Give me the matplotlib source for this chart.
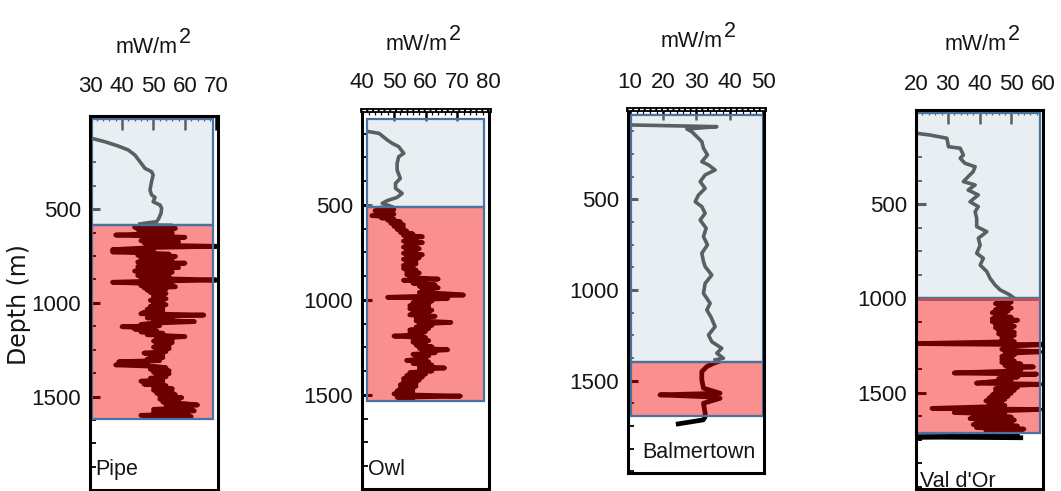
import matplotlib
matplotlib.use('Agg')
import matplotlib.pyplot as plt
from matplotlib.patches import Rectangle
from matplotlib.ticker import FixedLocator, MultipleLocator
import matplotlib.transforms as mtransforms

plt.rcParams['font.family'] = ['Liberation Sans', 'DejaVu Sans']

# ---- data -------------------------------------------------------------
stations = ['Pipe', 'Owl', 'Balmertown', "Val d'Or"]
x_ticks = [[30, 40, 50, 60, 70], [40, 50, 60, 70, 80],
           [10, 20, 30, 40, 50], [20, 30, 40, 50, 60]]
depth_ticks = [500, 1000, 1500]

# depth (m) of the zones: top of upper zone, upper/lower boundary, bottom of lower zone
zone_top = [20, 50, 35, 18]
zone_mid = [584, 510, 1395, 1000]
zone_bot = [1618, 1530, 1692, 1716]

# heat flow profiles (mW/m2) vs depth (m)
pipe_up_d = [122, 140, 163, 184, 211, 246, 282, 300, 317, 353, 398, 424, 437, 460,
             478, 495, 522, 549, 567, 572, 579]
pipe_up_q = [30.4, 34.6, 38.8, 42.0, 44.1, 45.7, 47.3, 49.4, 49.9, 49.4, 48.9, 49.4,
             50.5, 49.9, 52.1, 52.6, 52.4, 51.7, 51.0, 48.4, 45.7]
pipe_lo_d = [585, 590, 596, 602, 608, 614, 620, 626, 632, 638, 644, 650, 656, 662, 668,
             674, 680, 686, 692, 698, 704, 710, 716, 722, 728, 734, 740, 746, 752, 758,
             764, 770, 776, 782, 788, 794, 800, 806, 812, 818, 824, 830, 836, 842, 848,
             854, 860, 866, 872, 878, 884, 890, 896, 902, 908, 914, 920, 926, 932, 938,
             944, 950, 956, 962, 970, 978, 986, 994, 1002, 1010, 1018, 1026, 1034, 1042,
             1050, 1058, 1065, 1072, 1080, 1088, 1094, 1100, 1108, 1115, 1122, 1127, 1134,
             1140, 1148, 1155, 1162, 1170, 1180, 1188, 1196, 1204, 1212, 1220, 1228, 1236,
             1244, 1252, 1260, 1268, 1276, 1284, 1292, 1300, 1308, 1314, 1322, 1331, 1338,
             1346, 1354, 1362, 1370, 1378, 1386, 1394, 1402, 1410, 1418, 1426, 1434, 1442,
             1450, 1458, 1466, 1474, 1482, 1490, 1498, 1506, 1514, 1522, 1530, 1538, 1545,
             1552, 1560, 1568, 1576, 1584, 1592, 1600, 1607, 1612]
pipe_lo_q = [46, 56, 44, 57, 45, 55, 47, 56, 48, 38, 50, 60, 47, 55, 46,
             58, 47, 54, 48, 70, 50, 44, 37, 50, 37, 48, 55, 45, 57, 46,
             54, 48, 56, 45, 60, 47, 55, 45, 58, 46, 54, 44, 56, 47, 53,
             45, 55, 46, 55, 70, 50, 37, 48, 56, 46, 57, 47, 54, 48, 53,
             49, 54, 50, 53, 50, 54, 49, 53, 50, 54, 49, 53, 48, 53,
             47, 46, 66, 52, 48, 56, 50, 63, 50, 46, 52, 40, 48,
             44, 51, 46, 53, 48, 60, 51, 56, 50, 56, 51, 55, 50,
             55, 51, 54, 47, 53, 49, 53, 48, 52, 39, 48, 38, 50,
             54, 49, 55, 50, 55, 51, 54, 49, 53, 46, 53, 47, 54,
             50, 56, 50, 56, 51, 57, 52, 59, 52, 58, 53, 60, 64,
             54, 62, 50, 63, 50, 61, 46, 62, 48]

owl_up_d = [114, 123, 158, 175, 193, 228, 246, 281, 316, 360, 386, 412, 439, 460, 477,
            491, 509]
owl_up_q = [42.1, 45.3, 47.9, 49.4, 51.5, 53.1, 51.5, 51.0, 51.0, 52.0, 50.5, 50.5,
            52.6, 51.0, 47.9, 46.3, 49.4]
owl_lo_d = [512, 518, 524, 530, 536, 542, 548, 556, 562, 568, 574, 580, 588, 596, 604,
            612, 620, 628, 636, 644, 652, 660, 667, 674, 682, 690, 698, 706, 714, 722,
            730, 738, 746, 754, 762, 770, 778, 786, 794, 802, 810, 818, 826, 834, 842,
            850, 858, 866, 874, 882, 890, 896, 904, 912, 920, 928, 936, 944, 952, 960,
            968, 974, 980, 986, 992, 998, 1006, 1014, 1022, 1030, 1038, 1046, 1054, 1062,
            1070, 1078, 1086, 1094, 1102, 1110, 1118, 1126, 1134, 1142, 1150, 1158, 1166,
            1174, 1182, 1190, 1198, 1206, 1214, 1222, 1230, 1238, 1246, 1254, 1262, 1270,
            1278, 1286, 1294, 1302, 1310, 1318, 1326, 1334, 1342, 1350, 1358, 1366, 1374,
            1382, 1390, 1398, 1406, 1414, 1422, 1430, 1438, 1446, 1454, 1462, 1470, 1478,
            1486, 1494, 1500, 1506, 1512, 1518, 1524]
owl_lo_q = [48, 45, 50, 44, 49, 47, 50, 43, 49, 46, 50, 48, 52, 49, 53,
            50, 53, 51, 54, 52, 56, 53, 59, 54, 57, 53, 59, 54, 57, 53,
            58, 54, 57, 53, 59, 54, 58, 53, 57, 54, 57, 53, 56, 53, 57,
            54, 58, 54, 57, 55, 64, 53, 60, 56, 63, 58, 64, 59, 62, 58,
            67, 72, 60, 48, 67, 58, 62, 56, 61, 55, 61, 55, 62, 56,
            61, 55, 63, 57, 61, 57, 68, 58, 62, 57, 61, 55, 60,
            55, 59, 50, 60, 56, 61, 56, 60, 57, 62, 58, 67, 59,
            63, 56, 61, 57, 60, 54, 61, 56, 62, 58, 66, 58, 62,
            55, 60, 54, 59, 53, 58, 53, 57, 52, 57, 52, 56, 51,
            56, 50, 55, 71, 51, 56, 52]

balm_up_d = [90, 99, 112, 127, 154, 182, 218, 255, 292, 310, 338, 365, 402, 439, 476,
             513, 540, 577, 614, 659, 705, 751, 797, 843, 871, 917, 963, 1018, 1073,
             1110, 1147, 1202, 1248, 1285, 1321, 1348, 1376, 1385]
balm_up_q = [11.0, 36.1, 27.1, 28.6, 30.1, 31.6, 32.1, 33.3, 31.6, 33.6, 35.6, 32.6,
             31.1, 32.6, 30.6, 29.6, 31.6, 32.6, 31.1, 32.9, 32.1, 33.3, 31.6, 32.1,
             32.6, 34.6, 32.6, 32.1, 34.1, 33.1, 34.3, 35.6, 33.6, 34.6, 37.6, 36.1,
             38.1, 35.6]
balm_lo_d = [1395, 1404, 1422, 1450, 1496, 1541, 1569, 1578, 1588, 1597, 1624, 1679,
             1700, 1716, 1738]
balm_lo_q = [36.5, 35.1, 33.1, 31.6, 31.6, 32.1, 37.1, 19.0, 32.6, 37.1, 32.1, 32.6,
             32.6, 32.0, 24.5]

vdo_up_d = [124, 133, 150, 195, 203, 239, 256, 283, 301, 327, 354, 380, 398, 425, 451,
            487, 513, 540, 575, 619, 646, 681, 717, 761, 787, 823, 858, 893, 929, 955,
            982, 996]
vdo_up_q = [20.2, 24.4, 29.7, 30.2, 33.9, 34.9, 33.9, 35.4, 38.6, 38.0, 36.4, 34.9,
            38.6, 36.4, 39.6, 37.0, 39.6, 38.6, 39.1, 39.1, 42.3, 39.6, 40.2, 39.1,
            41.2, 40.2, 42.3, 43.3, 44.9, 46.5, 49.6, 50.7]
vdo_lo_d = [1004, 1012, 1020, 1028, 1036, 1044, 1052, 1060, 1068, 1076, 1084, 1092,
            1100, 1108, 1116, 1124, 1132, 1140, 1148, 1156, 1164, 1172, 1180, 1188,
            1196, 1204, 1212, 1220, 1230, 1240, 1246, 1254, 1262, 1270, 1278, 1284,
            1292, 1300, 1308, 1316, 1324, 1332, 1340, 1348, 1356, 1364, 1372, 1380,
            1388, 1396, 1402, 1410, 1418, 1426, 1434, 1442, 1450, 1456, 1464, 1472,
            1480, 1488, 1496, 1504, 1512, 1520, 1528, 1536, 1544, 1552, 1560, 1568,
            1576, 1584, 1590, 1598, 1606, 1614, 1622, 1630, 1638, 1646, 1654, 1662,
            1670, 1678, 1686, 1694, 1702, 1710, 1718, 1728, 1736, 1740]
vdo_lo_q = [49, 46, 50, 45, 49, 46, 50, 45, 49, 44, 48, 45,
            50, 44, 52, 44, 50, 45, 51, 45, 50, 46, 51, 46,
            51, 47, 50, 47, 51, 20, 60, 48, 51, 47, 52, 59,
            48, 51, 47, 50, 47, 51, 47, 53, 48, 57, 49, 53,
            47, 32, 58, 48, 52, 46, 50, 44, 39, 59, 48, 52,
            45, 51, 45, 50, 44, 49, 43, 48, 42, 47, 43, 48,
            42, 25, 59, 44, 32, 48, 38, 50, 37, 51, 39, 50,
            38, 52, 39, 54, 42, 50, 44, 52, 20, 53]

upper_d = [pipe_up_d, owl_up_d, balm_up_d, vdo_up_d]
upper_q = [pipe_up_q, owl_up_q, balm_up_q, vdo_up_q]
lower_d = [pipe_lo_d, owl_lo_d, balm_lo_d, vdo_lo_d]
lower_q = [pipe_lo_q, owl_lo_q, balm_lo_q, vdo_lo_q]

# ---- layout (pixels) ---------------------------------------------------
W, H = 1061, 491
# left, right, top(depth 0), bottom px ; xlim ; ylim bottom
frames = [(90, 218, 115.5, 489.5, (29.85, 70.5), 1996),
          (362, 489, 110, 489, (39.9, 80.05), 1995),
          (628, 764, 108.7, 472.5, (9.4, 50.3), 2006),
          (916, 1043, 110, 489, (19.95, 60.02), 2012)]
rect_x = [(0.016, 0.963), (0.037, 0.963), (0.02, 0.995), (0.0, 0.976)]
label_pad = [13, 12, 11, 10.5]
tick_len = [10, 8, 8, 10]
title_pos = [(178, 53), (448, 50), (723, 47), (1007, 50)]
name_pos = [(95, 475), (368, 475), (642, 458), (920, 487)]

txt_col = '#151515'
fig = plt.figure(figsize=(W / 100, H / 100), dpi=100)

for i in range(4):
    l, r, t, b, xl, yb = frames[i]
    ax = fig.add_axes([l / W, 1 - b / H, (r - l) / W, (b - t) / H])
    ax.set_xlim(*xl)
    ax.set_ylim(yb, 0)

    # profiles (black, seen through translucent zone overlays)
    ax.plot(upper_q[i], upper_d[i], color='black', lw=2.6, zorder=2,
            solid_joinstyle='round')
    ax.plot(lower_q[i], lower_d[i], color='black', lw=3.4, zorder=2,
            solid_joinstyle='round')

    trans = mtransforms.blended_transform_factory(ax.transAxes, ax.transData)
    x0, x1 = rect_x[i]
    ax.add_patch(Rectangle((x0, zone_top[i]), x1 - x0, zone_mid[i] - zone_top[i],
                           transform=trans, facecolor=(0.80, 0.85, 0.88, 0.44),
                           edgecolor='#4a72a0', lw=1.6, zorder=3))
    ax.add_patch(Rectangle((x0, zone_mid[i]), x1 - x0, zone_bot[i] - zone_mid[i],
                           transform=trans, facecolor=(0.95, 0.0, 0.0, 0.44),
                           edgecolor='#4a72a0', lw=1.6, zorder=3))

    # axes styling
    for side, sp in ax.spines.items():
        sp.set_linewidth(2.2)
        sp.set_zorder(5)
    ax.xaxis.set_ticks_position('top')
    ax.xaxis.set_major_locator(FixedLocator(x_ticks[i]))
    ax.xaxis.set_minor_locator(MultipleLocator(2))
    ax.yaxis.set_major_locator(FixedLocator(depth_ticks))
    ax.yaxis.set_minor_locator(MultipleLocator(125))
    ax.tick_params(axis='x', which='major', direction='in', length=tick_len[i],
                   width=1.8, pad=label_pad[i], labelsize=16, labelcolor=txt_col)
    ax.tick_params(axis='x', which='minor', direction='in', length=3.5, width=0.9)
    ax.tick_params(axis='y', which='major', direction='in', length=7, width=2.2,
                   pad=6.5, labelsize=16, labelcolor=txt_col)
    ax.tick_params(axis='y', which='minor', direction='in', length=4, width=1.3)
    ax.set_facecolor('white')

    if i in (1, 2):
        ax.spines['top'].set_linewidth(3.5)
        ax.plot([0, 1], [1, 1], transform=ax.transAxes, color='white', lw=0.9,
                ls=(0, (3, 1.6)), clip_on=False, zorder=6)

    if i == 3:
        ax.add_patch(Rectangle((x0, zone_mid[i]), x1 - x0, 14, transform=trans,
                               facecolor='#b05560', edgecolor='none', zorder=3.5))

    # station name
    nx, ny = name_pos[i]
    fig.text(nx / W, 1 - ny / H, stations[i], fontsize=15.5, color=txt_col,
             ha='left', va='baseline')
    # unit header
    tx, ty = title_pos[i]
    fig.text(tx / W, 1 - ty / H, 'mW/m', fontsize=15.5, color=txt_col,
             ha='right', va='baseline')
    fig.text((tx + 1) / W, 1 - (ty - 10) / H, '2', fontsize=15.5, color=txt_col,
             ha='left', va='baseline')

fig.text(19 / W, 1 - 305 / H, 'Depth (m)', rotation=90, fontsize=17,
         family='DejaVu Sans', color=txt_col, ha='center', va='center')

fig.savefig('out.png', dpi=100)
